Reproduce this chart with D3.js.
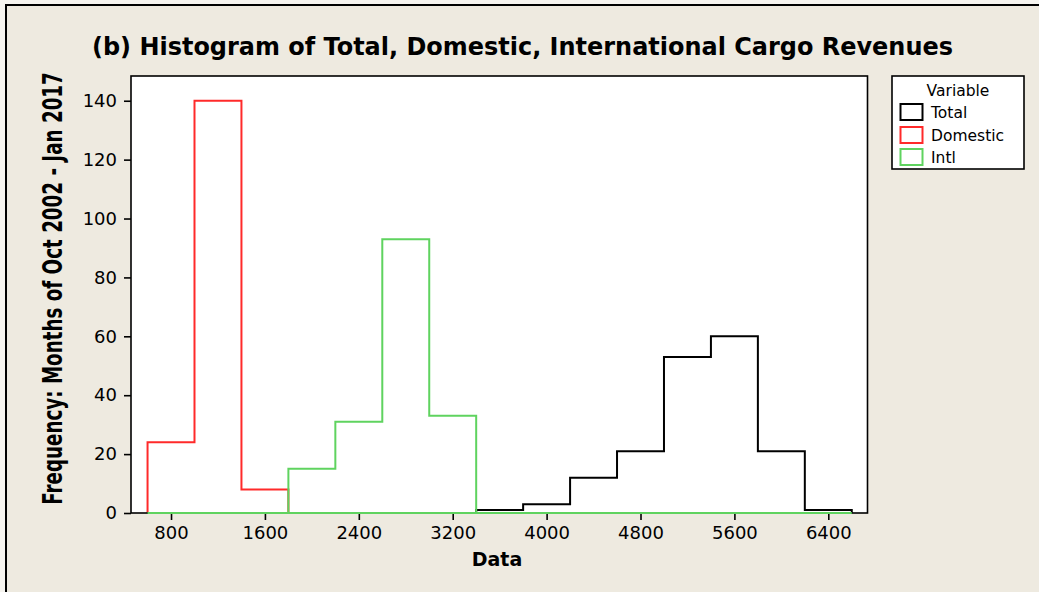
<!DOCTYPE html>
<html>
<head>
<meta charset="utf-8">
<script src="https://cdn.jsdelivr.net/npm/d3@7"></script>
<style>
  html, body { margin: 0; padding: 0; background: #f6f4ef; }
  svg { display: block; }
</style>
</head>
<body>
<script>
// Histogram bins: left edges (width 400) and monthly counts per series
const binStarts = [600, 1000, 1400, 1800, 2200, 2600, 3000, 3400, 3800, 4200, 4600, 5000, 5400, 5800, 6200];
const binWidth = 400;
const totalCounts    = [0, 0, 0, 0, 0, 0, 0, 1, 3, 12, 21, 53, 60, 21, 1];
const domesticCounts = [24, 140, 8, 0, 0, 0, 0, 0, 0, 0, 0, 0, 0, 0, 0];
const intlCounts     = [0, 0, 0, 15, 31, 93, 33, 0, 0, 0, 0, 0, 0, 0, 0];

const seriesNames  = ["Total", "Domestic", "Intl"];
const seriesColors = ["#000000", "#ff2a2a", "#5fd35f"];

const xTickValues = [800, 1600, 2400, 3200, 4000, 4800, 5600, 6400];
const yTickValues = [0, 20, 40, 60, 80, 100, 120, 140];

const titleText = "(b) Histogram of Total, Domestic, International Cargo Revenues";
const xLabelText = "Data";
const yLabelText = "Frequency: Months of Oct 2002 - Jan 2017";
const legendTitle = "Variable";

const W = 1039, H = 592;
const plot = { left: 131, right: 867.5, top: 76, bottom: 513 };

const svg = d3.select("body").append("svg").attr("width", W).attr("height", H);

// panel background with left/top border
svg.append("rect").attr("x", 6).attr("y", 5).attr("width", W - 6).attr("height", H - 5)
  .attr("fill", "#eeeae0");
svg.append("path").attr("d", `M6,${H} L6,5 L${W},5`)
  .attr("fill", "none").attr("stroke", "#000").attr("stroke-width", 2);

const x = d3.scaleLinear().domain([459, 6734]).range([plot.left, plot.right]);
const y = d3.scaleLinear().domain([0, 148.4]).range([plot.bottom, plot.top]);

// plot area
svg.append("rect")
  .attr("x", plot.left).attr("y", plot.top)
  .attr("width", plot.right - plot.left).attr("height", plot.bottom - plot.top)
  .attr("fill", "#fff");

// axes
const font = "'DejaVu Sans', Verdana, sans-serif";
const xAxis = svg.append("g").attr("transform", `translate(0,${plot.bottom})`)
  .call(d3.axisBottom(x).tickValues(xTickValues).tickSize(7).tickPadding(6).tickFormat(d3.format("d")));
const yAxis = svg.append("g").attr("transform", `translate(${plot.left},0)`)
  .call(d3.axisLeft(y).tickValues(yTickValues).tickSize(7).tickPadding(7).tickFormat(d3.format("d")));
[xAxis, yAxis].forEach(g => {
  g.select(".domain").remove();
  g.selectAll(".tick line").attr("stroke", "#000").attr("stroke-width", 1.6);
  g.selectAll(".tick text").attr("fill", "#000").style("font-family", font).style("font-size", "18px");
});

// histogram outlines
const stepLine = counts => {
  const pts = [[binStarts[0], 0]];
  counts.forEach((c, i) => {
    pts.push([binStarts[i], c]);
    pts.push([binStarts[i] + binWidth, c]);
  });
  pts.push([binStarts[binStarts.length - 1] + binWidth, 0]);
  return d3.line().x(d => x(d[0])).y(d => y(d[1]))(pts);
};
const allCounts = [totalCounts, domesticCounts, intlCounts];
svg.append("g").selectAll("path").data(allCounts).join("path")
  .attr("d", d => stepLine(d))
  .attr("fill", "none")
  .attr("stroke", (d, i) => seriesColors[i])
  .attr("stroke-width", 2)
  .attr("stroke-linejoin", "miter");

// plot frame
svg.append("rect")
  .attr("x", plot.left).attr("y", plot.top)
  .attr("width", plot.right - plot.left).attr("height", plot.bottom - plot.top)
  .attr("fill", "none").attr("stroke", "#000").attr("stroke-width", 1.6);
// redraw the baseline of the last series on top of the frame
svg.append("path")
  .attr("d", d3.line()([[x(binStarts[0]), y(0)], [x(binStarts[binStarts.length - 1] + binWidth), y(0)]]))
  .attr("stroke", seriesColors[2]).attr("stroke-width", 2);

// title
svg.append("text")
  .attr("x", 92).attr("y", 55)
  .attr("textLength", 861).attr("lengthAdjust", "spacingAndGlyphs")
  .style("font-family", font).style("font-weight", "bold").style("font-size", "24px")
  .text(titleText);

// x label
svg.append("text")
  .attr("x", 497).attr("y", 566).attr("text-anchor", "middle")
  .style("font-family", font).style("font-weight", "bold").style("font-size", "19px")
  .text(xLabelText);

// y label: tall condensed bold text, narrowed to fit the axis height
const yLabel = svg.append("g").attr("transform", "translate(62,288.5) rotate(-90)")
  .append("text")
  .attr("text-anchor", "middle")
  .style("font-family", font).style("font-weight", "bold").style("font-size", "27px")
  .text(yLabelText);
const naturalLen = yLabel.node().getComputedTextLength();
yLabel.attr("transform", `scale(${433 / naturalLen},1)`);

// legend
const legend = svg.append("g");
legend.append("rect")
  .attr("x", 892).attr("y", 76).attr("width", 132).attr("height", 93)
  .attr("fill", "#fff").attr("stroke", "#000").attr("stroke-width", 1.6);
legend.append("text")
  .attr("x", 958).attr("y", 96).attr("text-anchor", "middle")
  .style("font-family", font).style("font-size", "15.5px")
  .text(legendTitle);
const rowY = [104, 127, 149];
const items = legend.selectAll("g.item").data(seriesNames).join("g").attr("class", "item");
items.append("rect")
  .attr("x", 900.5).attr("y", (d, i) => rowY[i])
  .attr("width", 22).attr("height", 16)
  .attr("fill", "#fff")
  .attr("stroke", (d, i) => seriesColors[i]).attr("stroke-width", 2);
items.append("text")
  .attr("x", 931).attr("y", (d, i) => rowY[i] + 14)
  .style("font-family", font).style("font-size", "15.5px")
  .text(d => d);
</script>
</body>
</html>
